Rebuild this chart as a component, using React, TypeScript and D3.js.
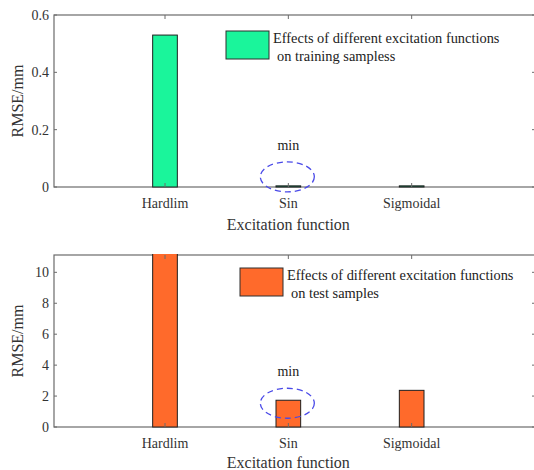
import React from "react";
import * as d3 from "d3";

// categories and values
const categories = ["Hardlim", "Sin", "Sigmoidal"];
const trainRmse = [0.53, 0.004, 0.004];
const testRmse = [11.6, 1.73, 2.37];
const trainTicks = [0, 0.2, 0.4, 0.6];
const testTicks = [0, 2, 4, 6, 8, 10];
const trainLegend = ["Effects of different excitation functions", "on training sampless"];
const testLegend = ["Effects of different excitation functions", "on test samples"];

const FONT = "Liberation Serif, Times New Roman, DejaVu Serif, serif";
const AXIS = "#6b6b6b";

type PanelProps = {
  id: string;
  top: number;
  bottom: number;
  values: number[];
  yMax: number;
  ticks: number[];
  tickFmt: (v: number) => string;
  color: string;
  legend: string[];
  legendX: number;
  legendY: number;
  minIdx: number;
  ellipseDy: number; // ellipse centre relative to the bar top
  titleGap: number;
};

const left = 54;
const right = 535;
const txt = (size: number) => ({ fontFamily: FONT, fontSize: size });

const Panel = ({ id, top, bottom, values, yMax, ticks, tickFmt, color, legend, legendX, legendY, minIdx, ellipseDy, titleGap }: PanelProps) => {
  const x = d3.scaleLinear().domain([0.1, 4]).range([left, right]);
  const y = d3.scaleLinear().domain([0, yMax]).range([bottom, top]);
  const barW = x(1.1) - x(0.9);
  const cx = (i: number) => x(i + 1);
  const ey = y(values[minIdx]) + ellipseDy;

  return (
    <g>
      <defs>
        <clipPath id={id}>
          <rect x={left} y={top - 1} width={right - left} height={bottom - top + 2} />
        </clipPath>
      </defs>

      {/* box */}
      <rect x={left} y={top} width={right - left} height={bottom - top} fill="none" stroke={AXIS} strokeWidth={1.2} />

      {/* bars */}
      <g clipPath={`url(#${id})`}>
        {values.map((v, i) => (
          <rect
            key={i}
            x={cx(i) - barW / 2}
            y={Math.max(y(v), top - 2)}
            width={barW}
            height={bottom - Math.max(y(v), top - 2)}
            fill={color}
            stroke="#1e1e1e"
            strokeWidth={1}
          />
        ))}
      </g>

      {/* y ticks */}
      {ticks.map((t) => (
        <g key={t}>
          <line x1={left} x2={left + 3} y1={y(t)} y2={y(t)} stroke={AXIS} />
          <line x1={right - 3} x2={right} y1={y(t)} y2={y(t)} stroke={AXIS} />
          <text x={left - 5} y={y(t)} dy="0.35em" textAnchor="end" style={txt(14)} fill="#333">
            {tickFmt(t)}
          </text>
        </g>
      ))}

      {/* x ticks */}
      {categories.map((c, i) => (
        <g key={c}>
          <line x1={cx(i)} x2={cx(i)} y1={bottom} y2={bottom - 4} stroke={AXIS} />
          <line x1={cx(i)} x2={cx(i)} y1={top} y2={top + 4} stroke={AXIS} />
          <text x={cx(i)} y={bottom + 21} textAnchor="middle" style={txt(14)} fill="#333">
            {c}
          </text>
        </g>
      ))}

      <text x={x(2)} y={bottom + titleGap} textAnchor="middle" style={txt(16)} fill="#333">
        Excitation function
      </text>
      <text
        transform={`translate(23,${(top + bottom) / 2}) rotate(-90)`}
        textAnchor="middle"
        style={txt(16)}
        fill="#333"
      >
        RMSE/mm
      </text>

      {/* legend */}
      <rect x={legendX} y={legendY} width={43} height={28} fill={color} stroke="#2e2e2e" strokeWidth={1} />
      <text x={legendX + 47} y={legendY + 12} style={txt(14.4)} fill="#222">
        {legend[0]}
      </text>
      <text x={legendX + 51} y={legendY + 30} style={txt(14.4)} fill="#222">
        {legend[1]}
      </text>

      {/* min annotation */}
      <text x={cx(minIdx)} y={ey - 27} textAnchor="middle" style={txt(14)} fill="#222">
        min
      </text>
      <ellipse
        cx={cx(minIdx) - 1}
        cy={ey}
        rx={27}
        ry={15}
        fill="none"
        stroke="#4a4ae8"
        strokeWidth={1.3}
        strokeDasharray="6 4"
      />
    </g>
  );
};

const App = () => {
  return (
    <svg width={534} height={470} style={{ position: "absolute", left: 0, top: 0, background: "#fff" }}>
      <Panel
        id="clipTrain"
        top={15}
        bottom={187}
        values={trainRmse}
        yMax={0.6}
        ticks={trainTicks}
        tickFmt={(v) => (v === 0 ? "0" : d3.format(".1f")(v))}
        color="#1af59b"
        legend={trainLegend}
        legendX={226}
        legendY={31}
        minIdx={1}
        ellipseDy={-9}
        titleGap={43}
      />
      <Panel
        id="clipTest"
        top={255}
        bottom={427}
        values={testRmse}
        yMax={11.12}
        ticks={testTicks}
        tickFmt={(v) => String(v)}
        color="#ff6a2b"
        legend={testLegend}
        legendX={240}
        legendY={268}
        minIdx={1}
        ellipseDy={3}
        titleGap={41}
      />
    </svg>
  );
};

export default App;
